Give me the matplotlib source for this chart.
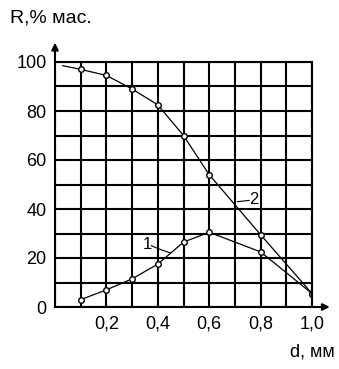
import matplotlib
matplotlib.use("Agg")
import matplotlib.pyplot as plt

# кривая 2 (убывающая) и кривая 1 (с максимумом)
d2 = [0.03, 0.1, 0.2, 0.3, 0.4, 0.5, 0.6, 0.8, 1.0]
r2 = [98.5, 97, 94.5, 89, 82.5, 70, 54, 29.5, 5.5]
d1 = [0.1, 0.2, 0.3, 0.4, 0.5, 0.6, 0.8, 1.0]
r1 = [3, 7, 11.5, 17.5, 26.5, 30.5, 22.5, 5.5]
xticks = [i / 10 for i in range(11)]
xlabels = ["", "", "0,2", "", "0,4", "", "0,6", "", "0,8", "", "1,0"]
yticks = list(range(0, 101, 10))
ylabels = [str(v) if v % 20 == 0 else "" for v in yticks]

plt.rcParams['font.family'] = ['Liberation Sans', 'DejaVu Sans']
fig = plt.figure(figsize=(3.39, 3.69), dpi=100)
ax = fig.add_axes([55/339, 62/369, 257/339, 245/369])

ax.plot(d2, r2, color='black', lw=0.9, marker='o', ms=4, markevery=list(range(1, len(d2))),
        mfc='white', mec='black', mew=1.0)
ax.plot(d1, r1, color='black', lw=0.9, marker='o', ms=4,
        mfc='white', mec='black', mew=1.0)

ax.set_xlim(0, 1.0)
ax.set_ylim(0, 100)
ax.set_xticks(xticks)
ax.set_xticklabels(xlabels)
ax.set_yticks(yticks)
ax.set_yticklabels(ylabels)
ax.tick_params(length=0, labelsize=13, pad=6)
ax.grid(True, color='black', lw=1.5)
for s in ax.spines.values():
    s.set_linewidth(1.5)

# подписи кривых
ax.text(0.36, 25.5, "1", fontsize=12, ha='center', va='center')
ax.plot([0.375, 0.41, 0.45], [25, 23.5, 22], color='black', lw=0.8)
ax.text(0.775, 44, "2", fontsize=12, ha='center', va='center')
ax.plot([0.71, 0.755], [43, 43.5], color='black', lw=0.8)

# стрелки осей
ax.annotate("", xy=(0, 1.09), xytext=(0, 0.99), xycoords='axes fraction',
            arrowprops=dict(arrowstyle='-|>', color='black', lw=1.5, mutation_scale=10))
ax.annotate("", xy=(1.08, 0), xytext=(0.99, 0), xycoords='axes fraction',
            arrowprops=dict(arrowstyle='-|>', color='black', lw=1.5, mutation_scale=10))

fig.text(10/339, 1 - 18/369, "R,% мас.", fontsize=14, ha='left', va='center')
fig.text(290/339, 1 - 352/369, "d, мм", fontsize=13, ha='left', va='center')

fig.savefig("out.png", dpi=100)
